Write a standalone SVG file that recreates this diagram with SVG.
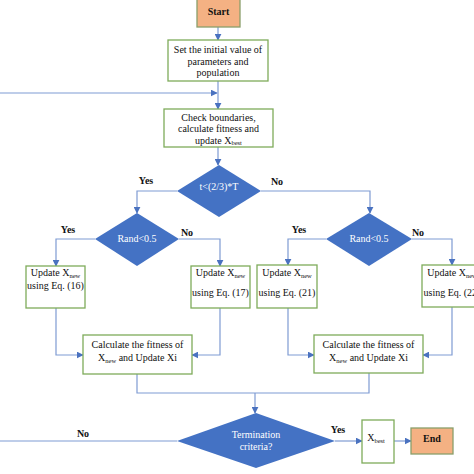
<svg xmlns="http://www.w3.org/2000/svg" width="474" height="474" viewBox="0 0 474 474">
<defs>
<marker id="ah" viewBox="0 0 10 10" refX="9" refY="5" markerWidth="7" markerHeight="7" markerUnits="userSpaceOnUse" orient="auto">
<path d="M0,0 L10,5 L0,10 z" fill="#4a72c0"/>
</marker>
<style>
.box{fill:#ffffff;stroke:#7eab5a;stroke-width:1.3}
.term{fill:#f4b183;stroke:#8a9f6a;stroke-width:1.3}
.dia{fill:#4472c4;stroke:none}
.c{fill:none;stroke:#7f9bd3;stroke-width:1.2}
.a{marker-end:url(#ah)}
.t{font-family:"Liberation Serif","Times New Roman",serif;font-size:10px;fill:#111;text-anchor:middle}
.w{font-family:"Liberation Serif","Times New Roman",serif;font-size:10px;fill:#ffffff;text-anchor:middle}
.b{font-family:"Liberation Serif","Times New Roman",serif;font-size:10px;font-weight:bold;fill:#111;text-anchor:middle}
.s{font-size:6.5px}
</style>
</defs>
<rect width="474" height="474" fill="#ffffff"/>
<g id="connectors">
<path class="c a" d="M218,27 V40"/>
<path class="c a" d="M218,81 V109"/>
<path class="c a" d="M0,93 H217"/>
<path class="c a" d="M218,147 V165"/>
<path class="c a" d="M177,191 H137 V213"/>
<path class="c a" d="M261,191 H370 V213"/>
<path class="c a" d="M95,239 H56 V266"/>
<path class="c a" d="M179,239 H220 V266"/>
<path class="c a" d="M326,239 H288 V265"/>
<path class="c a" d="M412,239 H452 V265"/>
<path class="c a" d="M56,308 V355 H83"/>
<path class="c a" d="M220,308 V355 H192"/>
<path class="c a" d="M288,308 V355 H314"/>
<path class="c a" d="M452,307 V355 H423"/>
<path class="c" d="M137,374 V393 H369 V373"/>
<path class="c a" d="M255,393 V413"/>
<path class="c" d="M177,441 H0"/>
<path class="c a" d="M335,441 H362"/>
<path class="c a" d="M394,441 H411"/>
<text class="b" x="146" y="184">Yes</text>
<text class="b" x="277" y="185">No</text>
<text class="b" x="68" y="233">Yes</text>
<text class="b" x="187" y="236">No</text>
<text class="b" x="299" y="233">Yes</text>
<text class="b" x="418" y="236">No</text>
<text class="b" x="83" y="437">No</text>
<text class="b" x="338" y="433">Yes</text>
</g>
<g id="start">
<rect class="term" x="197" y="-2" width="43" height="29"/>
<text class="b" x="218.5" y="15">Start</text>
</g>
<g id="init">
<rect class="box" x="168" y="40" width="100" height="41"/>
<text class="t" x="218" y="53">Set the initial value of</text>
<text class="t" x="218" y="64.5">parameters and</text>
<text class="t" x="218" y="76">population</text>
</g>
<g id="check">
<rect class="box" x="164" y="109" width="109" height="38"/>
<text class="t" x="218.5" y="121">Check boundaries,</text>
<text class="t" x="218.5" y="132">calculate fitness and</text>
<text class="t" x="218.5" y="143.5">update X<tspan class="s" dy="1.5">best</tspan></text>
</g>
<g id="cond-t">
<polygon class="dia" points="219,165 261,191 219,217 177,191"/>
<text class="w" x="219" y="190">t&lt;(2/3)*T</text>
</g>
<g id="rand-left">
<polygon class="dia" points="137,213 179,239 137,266 95,239"/>
<text class="w" x="137" y="242">Rand&lt;0.5</text>
</g>
<g id="rand-right">
<polygon class="dia" points="369,213 412,239 369,266 326,239"/>
<text class="w" x="369" y="242">Rand&lt;0.5</text>
</g>
<g id="eq16">
<rect class="box" x="26" y="266" width="59" height="42"/>
<text class="t" x="55.5" y="276">Update X<tspan class="s" dy="1.5">new</tspan></text>
<text class="t" x="55.5" y="289">using Eq. (16)</text>
</g>
<g id="eq17">
<rect class="box" x="191" y="266" width="59" height="42"/>
<text class="t" x="220.5" y="276">Update X<tspan class="s" dy="1.5">new</tspan></text>
<text class="t" x="220.5" y="296">using Eq. (17)</text>
</g>
<g id="eq21">
<rect class="box" x="257" y="265" width="60" height="43"/>
<text class="t" x="287" y="276">Update X<tspan class="s" dy="1.5">new</tspan></text>
<text class="t" x="287" y="296">using Eq. (21)</text>
</g>
<g id="eq22">
<rect class="box" x="422" y="265" width="60" height="42"/>
<text class="t" x="452" y="276">Update X<tspan class="s" dy="1.5">new</tspan></text>
<text class="t" x="452" y="296">using Eq. (22)</text>
</g>
<g id="calc-left">
<rect class="box" x="83" y="335" width="109" height="39"/>
<text class="t" x="137.5" y="348">Calculate the fitness of</text>
<text class="t" x="137.5" y="361">X<tspan class="s" dy="1.5">new</tspan><tspan dy="-1.5"> and Update Xi</tspan></text>
</g>
<g id="calc-right">
<rect class="box" x="314" y="335" width="109" height="38"/>
<text class="t" x="368.5" y="348">Calculate the fitness of</text>
<text class="t" x="368.5" y="361">X<tspan class="s" dy="1.5">new</tspan><tspan dy="-1.5"> and Update Xi</tspan></text>
</g>
<g id="termination">
<polygon class="dia" points="256,413 335,441 256,468 177,441"/>
<text class="w" x="256" y="438">Termination</text>
<text class="w" x="256" y="450">criteria?</text>
</g>
<g id="xbest">
<rect class="box" x="362" y="420" width="32" height="43"/>
<text class="t" x="376" y="441">X<tspan class="s" dy="1.5">best</tspan></text>
</g>
<g id="end">
<rect class="term" x="411" y="428" width="42" height="26"/>
<text class="b" x="432" y="442">End</text>
</g>
</svg>
